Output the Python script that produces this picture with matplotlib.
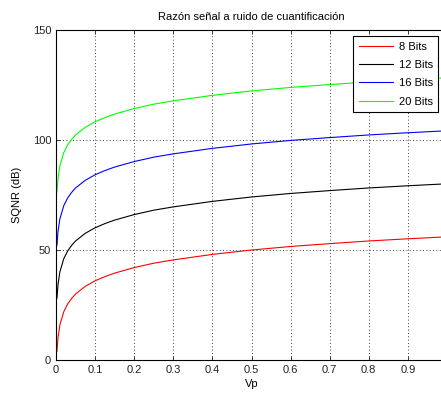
import matplotlib
matplotlib.use("Agg")
import matplotlib.pyplot as plt

plt.rcParams['font.family'] = ['Liberation Sans', 'DejaVu Sans']

vp = [0.0025, 0.005, 0.01, 0.02, 0.03, 0.04, 0.05, 0.075, 0.1, 0.125, 0.15, 0.2, 0.25, 0.3,
      0.4, 0.5, 0.6, 0.7, 0.8, 0.9, 1.0]
sqnr_8 = [4.0, 10.0, 16.0, 22.0, 25.5, 28.0, 30.0, 33.5, 36.0, 37.9, 39.5, 42.0, 44.0, 45.5,
          48.0, 50.0, 51.6, 52.9, 54.1, 55.1, 56.0]
sqnr_12 = [28.1, 34.1, 40.1, 46.1, 49.6, 52.1, 54.1, 57.6, 60.1, 62.0, 63.6, 66.1, 68.1, 69.6,
           72.1, 74.1, 75.7, 77.0, 78.2, 79.2, 80.1]
sqnr_16 = [52.2, 58.2, 64.2, 70.2, 73.7, 76.2, 78.2, 81.7, 84.2, 86.1, 87.7, 90.2, 92.2, 93.7,
           96.2, 98.2, 99.8, 101.1, 102.3, 103.3, 104.2]
sqnr_20 = [76.3, 82.3, 88.3, 94.3, 97.8, 100.3, 102.3, 105.8, 108.3, 110.2, 111.8, 114.3, 116.3, 117.8,
           120.3, 122.3, 123.9, 125.2, 126.4, 127.4, 128.3]
labels = ['8 Bits', '12 Bits', '16 Bits', '20 Bits']
colors = ['#ff0000', '#000000', '#0000ff', '#00ff00']
xticks = [0, 0.1, 0.2, 0.3, 0.4, 0.5, 0.6, 0.7, 0.8, 0.9]
yticks = [0, 50, 100, 150]

W, H = 441, 394
fig = plt.figure(figsize=(W / 100, H / 100), dpi=100)
ax = fig.add_axes([56 / W, (H - 360) / H, 391 / W, 330 / H])

for ys, lab, c in zip([sqnr_8, sqnr_12, sqnr_16, sqnr_20], labels, colors):
    ax.plot(vp, ys, color=c, lw=0.8, label=lab)

ax.set_xlim(0, 1)
ax.set_ylim(0, 150)
ax.set_xticks(xticks)
ax.set_xticklabels([('%g' % t) for t in xticks])
ax.set_yticks(yticks)
ax.grid(True, color='black', linestyle=(0, (1, 3)), linewidth=0.6)
ax.tick_params(direction='in', length=3, width=0.6, labelsize=8, top=True, right=True,
               colors='#222222')
for s in ax.spines.values():
    s.set_linewidth(0.8)
    s.set_color('black')

ax.set_title('Razón señal a ruido de cuantificación', fontsize=8, pad=7)
ax.set_xlabel('Vp', fontsize=8, labelpad=3)
ax.set_ylabel('SQNR (dB)', fontsize=8, labelpad=8)

leg = ax.legend(loc='upper left', bbox_to_anchor=(353 / W, (H - 36) / H),
                bbox_transform=fig.transFigure, fontsize=8, frameon=True,
                fancybox=False, edgecolor='black', framealpha=1,
                handlelength=3.1, handletextpad=0.5, labelspacing=0.75,
                borderpad=0.5, borderaxespad=0)
leg.get_frame().set_linewidth(0.8)

fig.savefig('out.png', dpi=100)
